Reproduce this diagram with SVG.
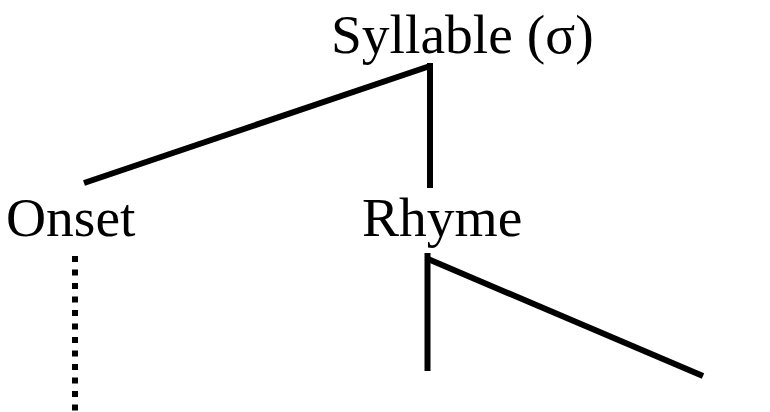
<svg xmlns="http://www.w3.org/2000/svg" width="770" height="412" viewBox="0 0 770 412">
  <style>
    .label { font-family: "Liberation Serif", "Times New Roman", serif; font-size: 55.5px; fill: #000; }
    .edge { stroke: #000; stroke-width: 6; fill: none; stroke-linecap: butt; }
    .dotted { stroke-dasharray: 6 7.5; }
  </style>
  <rect width="770" height="412" fill="#fff"/>
  <g id="connectors">
    <line class="edge" x1="430" y1="66" x2="84" y2="183"/>
    <line class="edge" x1="430" y1="63" x2="430" y2="188"/>
    <line class="edge" x1="427.5" y1="253" x2="427.5" y2="371"/>
    <line class="edge" x1="428" y1="259" x2="703" y2="376"/>
    <line class="edge dotted" x1="75" y1="256" x2="75" y2="412"/>
  </g>
  <g id="syllable">
    <text class="label" x="331" y="53">Syllable (σ)</text>
  </g>
  <g id="onset">
    <text class="label" x="6" y="236">Onset</text>
  </g>
  <g id="rhyme">
    <text class="label" x="362" y="236">Rhyme</text>
  </g>
</svg>
